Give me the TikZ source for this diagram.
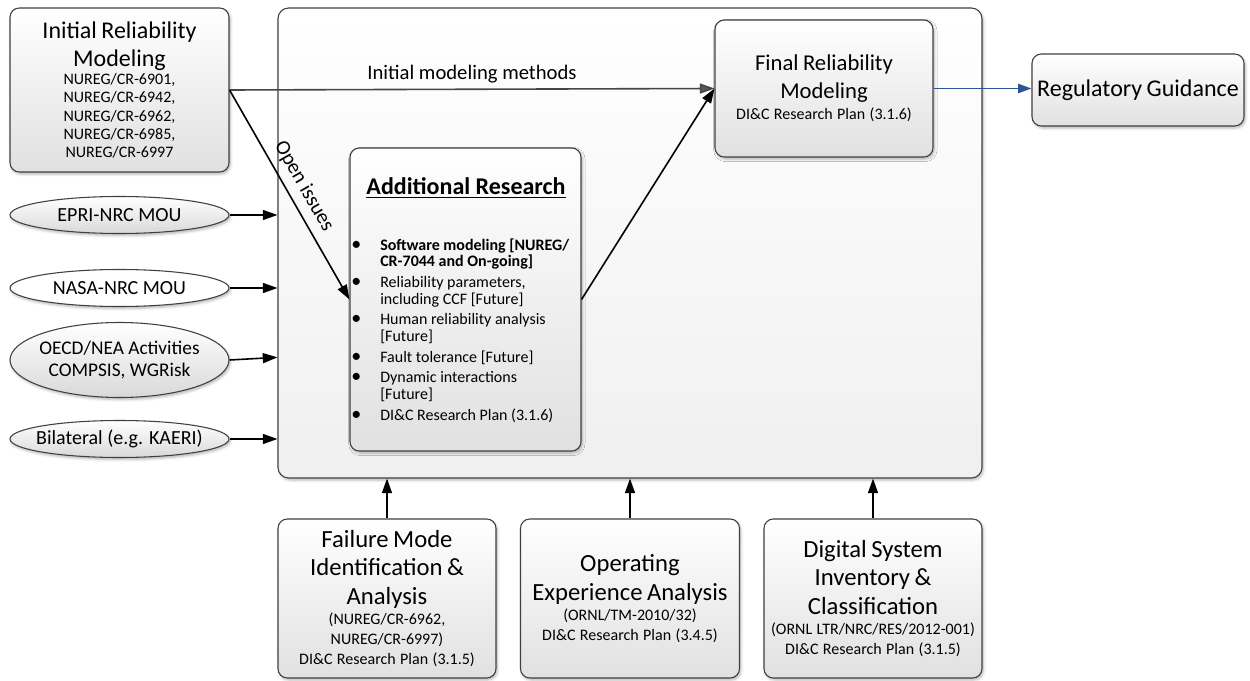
\documentclass[tikz,border=0pt]{standalone}
\usepackage{fontspec}
\setmainfont{Carlito}
\usetikzlibrary{arrows.meta,shapes.geometric,shadows.blur}

\definecolor{edge}{RGB}{64,64,64}
\definecolor{flowblue}{RGB}{47,85,151}
\definecolor{methodgray}{RGB}{70,70,70}

% text blocks used in the boxes: each is its own paragraph with its own spacing
\newcommand\ttlblock[1]{{\fontsize{18}{21}\selectfont #1\par}}
\newcommand\finblock[1]{{\fontsize{17}{21}\selectfont #1\par}}
\newcommand\botblock[1]{{\fontsize{18.5}{21.2}\selectfont #1\par}}
\newcommand\refblock[1]{{\fontsize{12}{13.6}\selectfont #1\par}}
\newcommand\finref[1]{{\fontsize{12}{16}\selectfont #1\par}}
\newcommand\botrefblock[1]{{\fontsize{12}{15}\selectfont #1\par}}
\newcommand\ovalsize{\fontsize{15}{16.5}\selectfont}
\newcommand\labsize{\fontsize{15.5}{18}\selectfont}
\newcommand\listsize{\fontsize{12}{12.75}\selectfont}
\newcommand\bigdot{{\fontsize{15}{12}\selectfont\textbullet}}

\begin{document}
\begin{tikzpicture}[x=0.75pt,y=-0.75pt,
  softshadow/.style={blur shadow={shadow xshift=1pt, shadow yshift=-1.5pt,
      shadow blur radius=2pt, shadow opacity=30}},
  box/.style={draw=edge, line width=0.8pt, rounded corners=7pt,
      top color=white, bottom color=black!12, softshadow,
      align=center, inner sep=0pt},
  mainbox/.style={draw=edge, line width=0.8pt, rounded corners=8pt,
      top color=white, bottom color=black!6, softshadow},
  oval/.style={ellipse, draw=edge, line width=0.8pt, fill=white,
      minimum width=164.25pt, inner sep=0pt, softshadow},
  grayoval/.style={oval, top color=white, bottom color=black!15},
  ovaltext/.style={align=center, inner sep=0pt, font=\ovalsize},
  link/.style={line width=1.2pt, draw=black,
      -{Triangle[length=11pt,width=7.5pt]}},
  methodlink/.style={line width=1.2pt, draw=methodgray,
      -{Triangle[length=11pt,width=7.5pt,fill=black!65]}},
  bluelink/.style={line width=1pt, draw=flowblue,
      -{Triangle[length=10pt,width=7pt]}}]

\useasboundingbox (0,0) rectangle (1250,681);

% enclosing research programme
\node[mainbox, minimum width=528pt, minimum height=352.5pt] (main) at (630,243) {};

% starting point
\node[box, text width=164.25pt, minimum height=123pt] (init) at (119.5,90)
  {\ttlblock{Initial Reliability\\Modeling}
   \refblock{NUREG/CR-6901,\\NUREG/CR-6942,\\NUREG/CR-6962,\\NUREG/CR-6985,\\NUREG/CR-6997}};

% outcome
\node[box, text width=163.5pt, minimum height=102.75pt] (final) at (824,88.5)
  {\finblock{Final Reliability\\Modeling}
   \finref{DI\&C Research Plan (3.1.6)}};

\node[box, text width=159pt, minimum height=54pt] (reg) at (1138,90)
  {\ttlblock{Regulatory Guidance}};

% additional research topics
\node[box, minimum width=173.25pt, minimum height=227.25pt] (addl) at (465.5,299.5) {};
\node[anchor=base, inner sep=0pt, font=\fontsize{18}{21}\selectfont\bfseries]
  (addltitle) at (466,195) {\underline{Additional Research}};
\node[anchor=base west, inner sep=0pt, font=\listsize] (addllist) at (351,250)
  {\begin{tabular}[t]{@{}p{21.75pt}@{}l@{}}
   \bigdot & \textbf{Software modeling [NUREG/}\\
           & \textbf{CR-7044 and On-going]}\\[2.6pt]
   \bigdot & Reliability parameters,\\
           & including CCF [Future]\\[2.6pt]
   \bigdot & Human reliability analysis\\
           & [Future]\\[2.6pt]
   \bigdot & Fault tolerance [Future]\\[2.6pt]
   \bigdot & Dynamic interactions\\
           & [Future]\\[2.6pt]
   \bigdot & DI\&C Research Plan (3.1.6)
   \end{tabular}};

% external collaborations
\node[grayoval, minimum height=27.75pt] (epri) at (119.5,215) {};
\node[ovaltext] (epritxt) at (epri.center) {EPRI-NRC MOU};
\node[oval, minimum height=27.75pt] (nasa) at (119.5,288) {};
\node[ovaltext] (nasatxt) at (nasa.center) {NASA-NRC MOU};
\node[grayoval, minimum height=56.25pt] (oecd) at (119.5,360) {};
\node[ovaltext, font=\fontsize{14.5}{16.3}\selectfont] (oecdtxt) at (oecd.center)
  {OECD/NEA Activities\\COMPSIS, WGRisk};
\node[grayoval, minimum height=27.75pt] (bilat) at (119.5,439) {};
\node[ovaltext] (bilattxt) at (bilat.center) {Bilateral (e.g. KAERI)};

% supporting studies
\node[box, text width=163.5pt, minimum height=119.25pt] (fail) at (387,598.5)
  {\botblock{Failure Mode\\Identification \&\\Analysis}
   \botrefblock{(NUREG/CR-6962,\\NUREG/CR-6997)\\DI\&C Research Plan (3.1.5)}};
\node[box, text width=164.25pt, minimum height=119.25pt] (oper) at (630,598.5)
  {\botblock{Operating\\Experience Analysis}
   \botrefblock{(ORNL/TM-2010/32)\\DI\&C Research Plan (3.4.5)}};
\node[box, text width=163.5pt, minimum height=119.25pt] (digi) at (873,598.5)
  {\botblock{Digital System\\Inventory \&\\Classification}
   \botrefblock{(ORNL LTR/NRC/RES/2012-001)\\DI\&C Research Plan (3.1.5)}};

% connectors
\draw[methodlink] (init.east) -- node[above=1pt, pos=0.5, font=\labsize, text=black]
  {Initial modeling methods} (final.west);
\draw[link] (init.east) -- node[sloped, above=2pt, pos=0.5, font=\labsize]
  {Open issues} (addl.west);
\draw[link] (addl.east) -- (final.west);
\draw[bluelink] (final.east) -- (final.east -| reg.west);

\draw[link] (epri.east) -- (epri.east -| main.west);
\draw[link] (nasa.east) -- (nasa.east -| main.west);
\draw[link] (oecd.east) -- ([yshift=2pt]oecd.east -| main.west);
\draw[link] (bilat.east) -- (bilat.east -| main.west);

\draw[link] (fail.north) -- (fail.north |- main.south);
\draw[link] (oper.north) -- (oper.north |- main.south);
\draw[link] (digi.north) -- (digi.north |- main.south);
\end{tikzpicture}
\end{document}
